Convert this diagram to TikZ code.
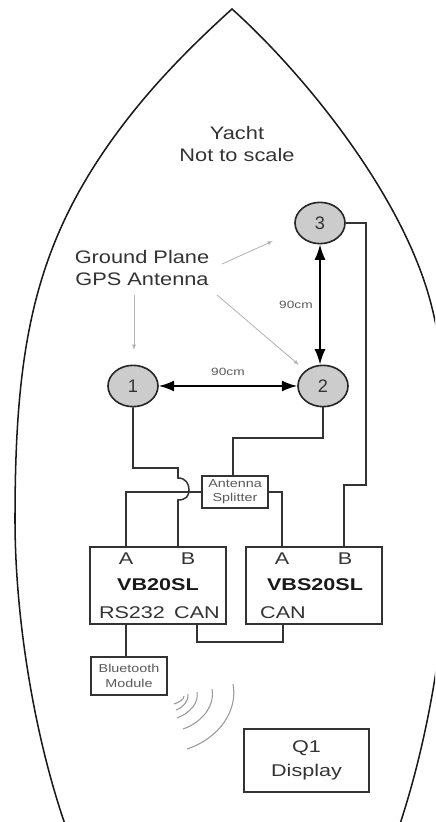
\documentclass[tikz,border=0pt]{standalone}
\usepackage{fontspec}
\setmainfont{Liberation Sans}
\usepackage{graphicx}
\usepackage{xcolor}
\usepackage{tikz}
\usetikzlibrary{shapes,arrows,arrows.meta,positioning,calc}
\definecolor{inkgray}{HTML}{333333}
\newcommand{\wide}[2][1.2]{\scalebox{#1}[1]{#2}}
\tikzset{
    antenna/.style={draw=black!85,line width=1.4pt,fill=black!20,ellipse,minimum width=1.5cm,minimum height=1.24cm,inner sep=0pt,text=inkgray,font=\fontsize{15.5}{15.5}\selectfont},
    unitbox/.style={draw=black!80,line width=1.3pt,rectangle,inner sep=0pt,text=inkgray,align=center},
    wire/.style={draw=black!80,line width=1.3pt},
    span/.style={draw=black,line width=1.4pt,{Latex[length=4.6mm,width=3.3mm]}-{Latex[length=4.6mm,width=3.3mm]}},
    pointer/.style={draw=black!30,line width=0.7pt,-{Latex[length=1.6mm,width=1.2mm]}},
    wave/.style={draw=black!40,line width=0.9pt},
    caption/.style={text=inkgray,inner sep=0pt,align=center,font=\fontsize{15.5}{18.7}\selectfont},
    portlabel/.style={text=inkgray,inner sep=0pt,font=\fontsize{14.5}{14.5}\selectfont},
    boldlabel/.style={portlabel,text=black!90,font=\bfseries\fontsize{14.5}{14.5}\selectfont},
    distlabel/.style={text=black!65,inner sep=0pt,font=\fontsize{9}{9}\selectfont},
    smalltext/.style={text=black!65,font=\fontsize{9.8}{12.2}\selectfont}
}
\begin{document}
\begin{tikzpicture}[x=0.03cm,y=-0.03cm]
            \useasboundingbox (0,0) rectangle (435,822);

            % Hull
            \begin{scope}
                \clip (0,0) rectangle (435,822);
                \draw[line width=1.3pt,black!90] (67,830) .. controls (35,740) and (15,620) .. (15,520)
                    .. controls (15,340) and (35,235) .. (133,112)
                    .. controls (165,72) and (200,38) .. (232,9)
                    .. controls (300,70) and (400,190) .. (430,300)
                    .. controls (460,410) and (462,640) .. (398,830);
            \end{scope}

            % Texts
            \node[caption] (title) at (237,144) {\wide{Yacht}\\\wide{Not to scale}};
            \node[caption] (gps) at (142,268) {\wide{Ground Plane}\\\wide{GPS Antenna}};

            % Antennas
            \node[antenna] (ant1) at (133,386) {1};
            \node[antenna] (ant2) at (323,386) {2};
            \node[antenna] (ant3) at (320,223) {3};

            % Boxes
            \node[unitbox,smalltext,minimum width=1.98cm,minimum height=0.96cm] (splitbox) at (235,492) {\wide[1.25]{Antenna}\\\wide[1.25]{Splitter}};
            \node[unitbox,minimum width=4.08cm,minimum height=2.31cm] (vb) at (158,585.5) {};
            \node[unitbox,minimum width=4.08cm,minimum height=2.31cm] (vbs) at (314,585.5) {};
            \node[unitbox,smalltext,minimum width=2.28cm,minimum height=1.14cm] (bt) at (129,676) {\wide[1.25]{Bluetooth}\\\wide[1.25]{Module}};
            \node[unitbox,minimum width=3.75cm,minimum height=1.89cm,font=\fontsize{14.5}{20}\selectfont] (q1) at (306.5,760.5) {\wide[1.27]{Q1}\\\wide[1.27]{Display}};

            % Box labels
            \node[portlabel] (a1) at (126,559) {\wide[1.27]{A}};
            \node[portlabel] (b1) at (188,559) {\wide[1.27]{B}};
            \node[portlabel] (a2) at (282,559) {\wide[1.27]{A}};
            \node[portlabel] (b2) at (345,559) {\wide[1.27]{B}};
            \node[boldlabel] (vbname) at (158,585) {\wide[1.27]{VB20SL}};
            \node[boldlabel] (vbsname) at (315,585) {\wide[1.27]{VBS20SL}};
            \node[portlabel] (rs) at (132,613) {\wide[1.27]{RS232}};
            \node[portlabel] (can1) at (197,613) {\wide[1.27]{CAN}};
            \node[portlabel] (can2) at (283,613) {\wide[1.27]{CAN}};

            % Distances
            \draw[span] (ant1) -- (ant2) node[midway,above=8.5pt,distlabel] (d12) {\wide[1.3]{90cm}};
            \draw[span] (ant3.south) -- (ant3.south |- ant2.north) node[midway,left=5.5pt,distlabel] (d23) {\wide[1.3]{90cm}};

            % Pointers
            \coordinate (g1) at (134,295);
            \coordinate (e1) at (134,350);
            \coordinate (g2) at (217,295);
            \coordinate (e2) at (299,365);
            \coordinate (g3) at (222,264);
            \coordinate (e3) at (273,241);
            \draw[pointer] (g1) -- (e1);
            \draw[pointer] (g2) -- (e2);
            \draw[pointer] (g3) -- (e3);

            % Wires
            \draw[wire] (ant1.south) |- (178,468) -- (178,478)
                .. controls (186,478) and (189,484) .. (189,490)
                .. controls (189,496) and (186,500) .. (178,500) -- (178,547);
            \draw[wire] (126,547) |- (splitbox.west);
            \draw[wire] (ant2.south) |- (233,438) -- (233,476);
            \draw[wire] (splitbox.east) -| (282,547);
            \draw[wire] (ant3.east) -| (366,485) -| (344,547);
            \draw[wire] (126,624) -- (126,657);
            \draw[wire] (197,624) |- (283,642) -- (283,624);

            % Radio waves
            \draw[wave] (233,684) .. controls (238,710) and (220,738) .. (187,749);
            \draw[wave] (212,689) .. controls (215,705) and (203,722) .. (183,729);
            \draw[wave] (197,692) .. controls (199,703) and (190,713) .. (177,718);
            \draw[wave] (188,694) .. controls (189,700) and (184,707) .. (176,710);
            \draw[wave] (184,696) .. controls (184,699) and (180,702) .. (174,704);
        \end{tikzpicture}
\end{document}
